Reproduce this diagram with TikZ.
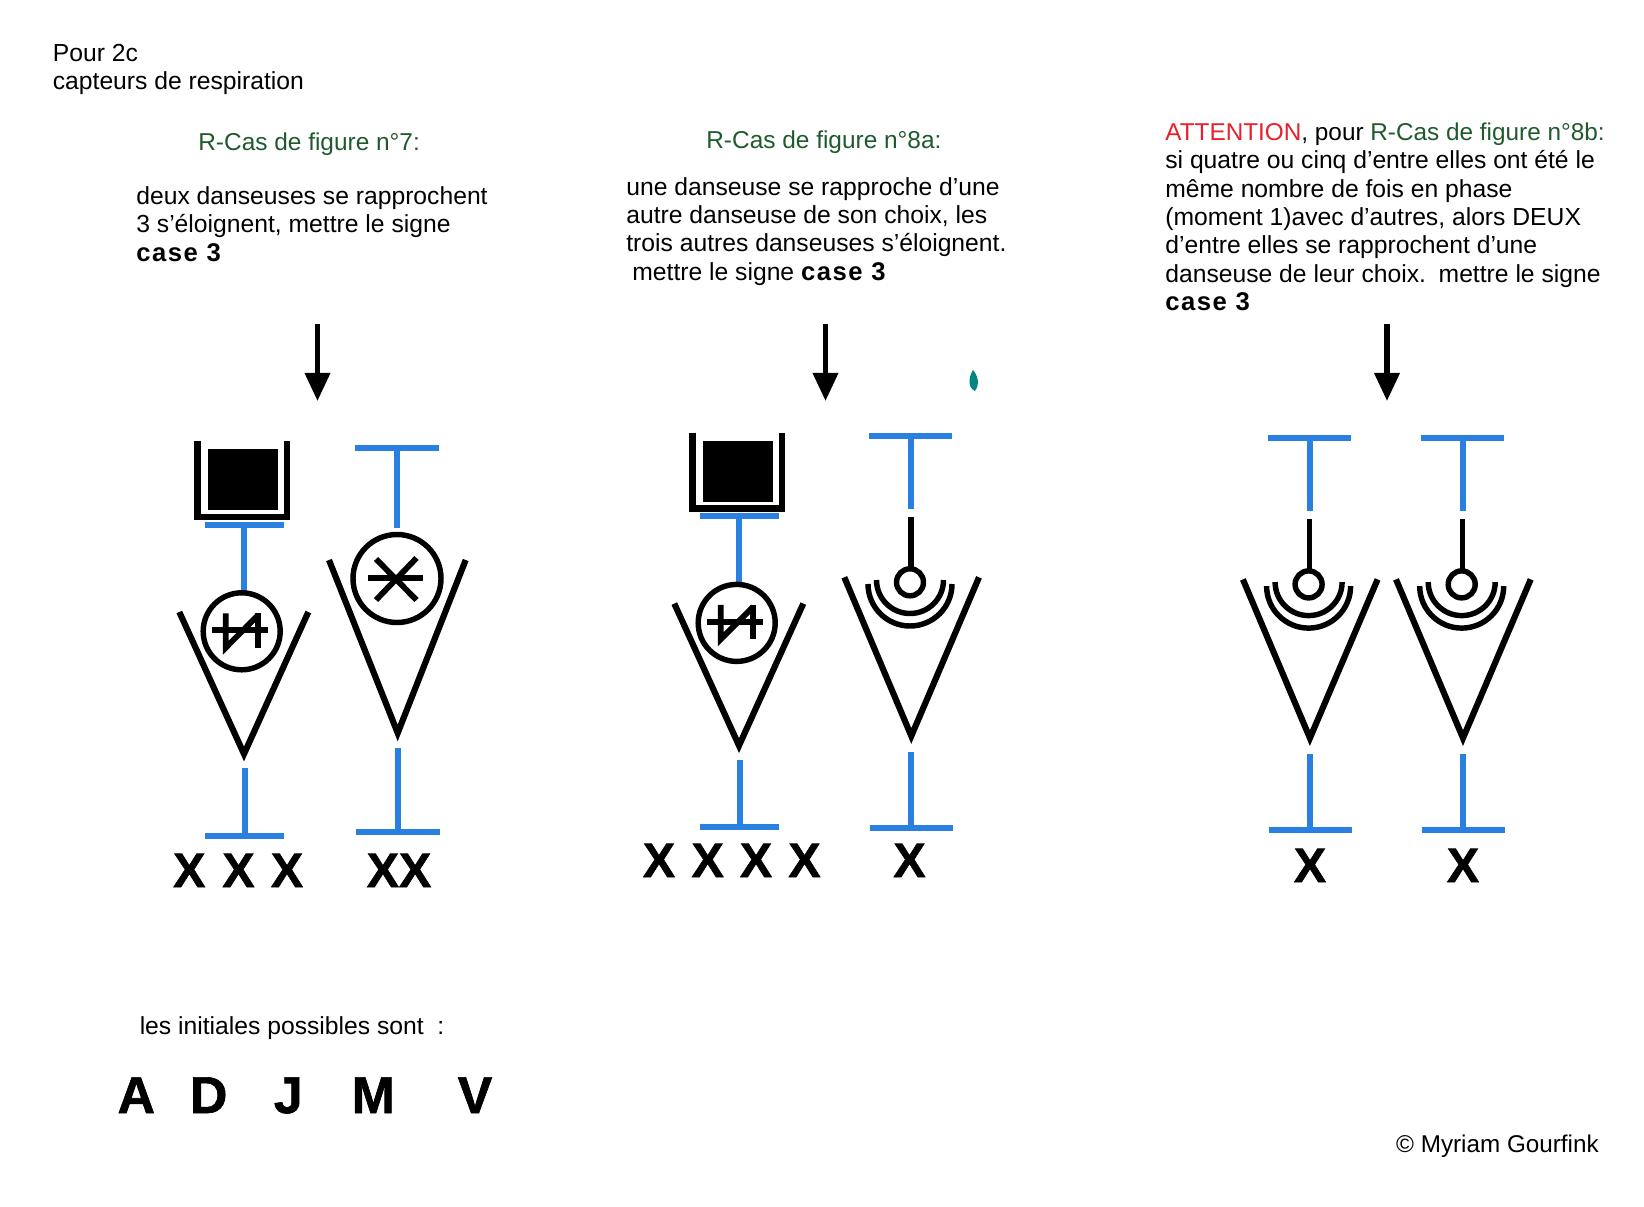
\documentclass[tikz,border=0pt]{standalone}
\usepackage{fontspec}
\setmainfont{Liberation Sans}
\newfontfamily\grasfont[FakeBold=1.2]{Liberation Sans Bold}
\newfontfamily\casefont[LetterSpace=6]{Liberation Sans Bold}
\usetikzlibrary{arrows.meta}
\definecolor{bleuT}{HTML}{2A80E0}
\definecolor{vertR}{HTML}{1F5A2E}
\definecolor{rougeA}{HTML}{E8202A}
\newcommand{\gras}[1]{{\fontsize{14.6}{16}\casefont #1}}
\tikzset{
  txt/.style={anchor=base west,inner sep=0pt,font=\fontsize{14.05}{16}\selectfont},
  titre/.style={anchor=base west,inner sep=0pt,text=vertR,font=\fontsize{13.9}{16}\selectfont},
  grosX/.style={inner sep=0pt,anchor=base,font=\fontsize{27.5}{30}\grasfont},
  initiale/.style={inner sep=0pt,anchor=base,font=\fontsize{29.5}{32}\grasfont},
  bleu/.style={draw=bleuT,line width=3.4pt},
  noir/.style={draw=black,line width=3.5pt},
  fin/.style={draw=black,line width=3.1pt},
  signe/.style={draw=black,line width=3.3pt},
  fleche/.style={draw=black,line width=3pt,-{Triangle[width=14pt,length=16pt]}}
}
\begin{document}
\begin{tikzpicture}[x=0.02cm,y=-0.02cm]
\useasboundingbox (0,0) rectangle (1644,1207);
% en-tete
\node[txt] (pour) at (52.5,61) {Pour 2c};
\node[txt] (capteurs) at (52.5,89) {capteurs de respiration};
% colonne 1
\node[titre] (titreA) at (198,150) {R-Cas de figure n°7:};
\node[txt] (ligneA1) at (136,204.5) {deux danseuses se rapprochent};
\node[txt] (ligneA2) at (136,232.8) {3 s’éloignent, mettre le signe};
\node[txt] (ligneA3) at (136,261) {\gras{case 3}};
% colonne 2
\node[titre] (titreB) at (706,148) {R-Cas de figure n°8a:};
\node[txt] (ligneB1) at (626,195) {une danseuse se rapproche d’une};
\node[txt] (ligneB2) at (626,223.3) {autre danseuse de son choix, les};
\node[txt] (ligneB3) at (626,251.6) {trois autres danseuses s’éloignent.};
\node[txt] (ligneB4) at (632,280) {mettre le signe \gras{case 3}};
% colonne 3
\node[txt,font=\fontsize{13.85}{16}\selectfont] (ligneC0) at (1165,140.5) {\textcolor{rougeA}{ATTENTION}, pour \textcolor{vertR}{R-Cas de figure n°8b:}};
\node[txt] (ligneC1) at (1165,168.8) {si quatre ou cinq d’entre elles ont été le};
\node[txt] (ligneC2) at (1165,197) {même nombre de fois en phase};
\node[txt] (ligneC3) at (1165,225.4) {(moment 1)avec d’autres, alors DEUX};
\node[txt] (ligneC4) at (1165,253.7) {d’entre elles se rapprochent d’une};
\node[txt] (ligneC5) at (1165,282) {danseuse de leur choix.\hspace{2pt} mettre le signe};
\node[txt] (ligneC6) at (1165,310.4) {\gras{case 3}};
% fleches
\foreach \n/\x in {a/317.5,b/825.5,c/1387}{
  \coordinate (haut\n) at (\x,324);
  \coordinate (bas\n) at (\x,401);
  \draw[fleche] (haut\n) -- (bas\n);
}
% case + cone barre, deux fois
\foreach \dx/\dy in {0/0,495/-8.4}{
\begin{scope}[shift={(\dx,\dy)}]
\draw[draw=black,line width=3.7pt] (197.5,441) -- (197.5,517) -- (286.8,517) -- (286.8,441);
\fill[black] (208,449.3) rectangle (278,510);
\draw[bleu] (204.5,524.7) -- (284,524.7);
\draw[bleu] (244,524.7) -- (244,590.7);
\draw[noir] (179.3,612) -- (244,754) -- (308.3,612);
\draw[fin] (241.7,631.3) circle (38.5);
\draw[signe] (212.3,630.3) -- (268.3,630.3);
\draw[signe] (225.7,613.3) -- (225.7,647.7) -- (258.3,615);
\draw[signe] (258.3,613.3) -- (258.3,647.7);
\draw[bleu] (244.7,768.3) -- (244.7,835.7);
\draw[bleu] (205,835.7) -- (284.3,835.7);
\end{scope}
}
% cone avec asterisque
\draw[bleu] (355.3,448.3) -- (439,448.3);
\draw[bleu] (397,448.3) -- (397,528);
\draw[noir] (329,560) -- (397.7,733) -- (465.7,560);
\draw[fin] (397,578.5) circle (44);
\draw[signe] (368,577.7) -- (423,577.7);
\draw[signe] (376,559) -- (416.5,600);
\draw[signe] (416.5,558) -- (376,600);
\draw[bleu] (397.7,748.3) -- (397.7,831.7);
\draw[bleu] (356,831.7) -- (439.7,831.7);
% cone avec arcs, trois fois
\foreach \dx/\dy in {0/0,398.6/2.1,551.7/2.1}{
\begin{scope}[shift={(\dx,\dy)}]
\draw[bleu] (869,435.7) -- (952.3,435.7);
\draw[bleu] (911,435.7) -- (911,509.3);
\draw[fin] (911,517.3) -- (911,567);
\draw[fin] (910,582.3) circle (13.5);
\draw[fin] (876.5,580) arc[start angle=180,end angle=360,x radius=33.5,y radius=-33.5];
\draw[fin] (868,584) arc[start angle=180,end angle=360,x radius=42,y radius=-42];
\draw[noir] (844.3,577.3) -- (911.3,736) -- (979,577.3);
\draw[bleu] (911,752) -- (911,828);
\draw[bleu] (870,828) -- (953,828);
\end{scope}
}
% tache
\fill[black!20!teal!80!cyan] (973,370) .. controls (978,376) and (980,384) .. (975,391) .. controls (968,388) and (968,378) .. (973,370);
% croix
\foreach \n/\x/\y/\t in {a/189.3/887/X,b/238.5/887/X,c/287/887/X,d/399/887/XX,e/659/877/X,f/707.7/877/X,g/756/877/X,h/804.5/877/X,i/909.5/877/X,j/1310/882/X,k/1463/882/X}{
  \node[grosX] (croix\n) at (\x,\y) {\t};
}
% bas de page
\node[txt] (initiales) at (139.4,1034.5) {les initiales possibles sont\ \ :};
\foreach \n/\x in {A/136.3,D/208.7,J/288.3,M/373.3,V/475}{
  \node[initiale] (lettre\n) at (\x,1113) {\n};
}
\node[txt,anchor=base east,font=\fontsize{13.8}{16}\selectfont] (droits) at (1599,1152.5) {© Myriam Gourfink};
\end{tikzpicture}
\end{document}
